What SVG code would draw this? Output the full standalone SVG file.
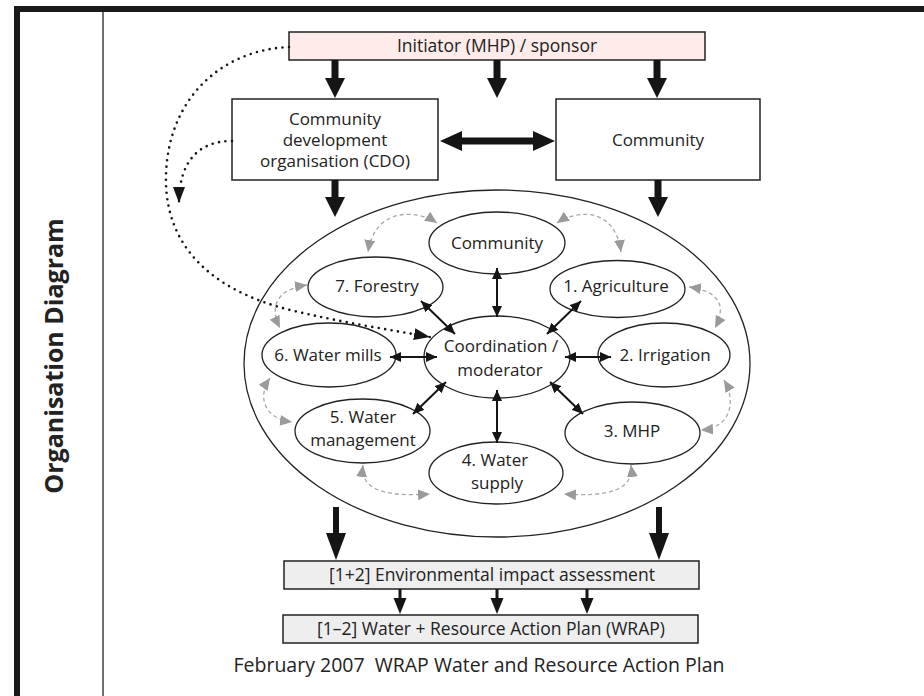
<svg xmlns="http://www.w3.org/2000/svg" width="924" height="696" viewBox="0 0 924 696">
<defs>
<style>
text{font-family:"Open Sans","Liberation Sans",sans-serif;font-size:17px;fill:#222;text-anchor:middle}
.box{stroke:#222;stroke-width:1.5}
.ell{fill:#fff;stroke:#222;stroke-width:1.3}
.thick{fill:#151515}
.sm{stroke:#151515;stroke-width:2;fill:none;marker-start:url(#sa);marker-end:url(#sa)}
.gr{stroke:#a8a8a8;stroke-width:1.3;stroke-dasharray:4 3;fill:none;marker-start:url(#ga);marker-end:url(#ga)}
.dot{stroke:#151515;stroke-width:2.6;stroke-dasharray:0 6.5;stroke-linecap:round;fill:none;marker-end:url(#da)}
</style>
<marker id="sa" markerUnits="userSpaceOnUse" markerWidth="12" markerHeight="10" refX="11" refY="5" orient="auto-start-reverse" viewBox="0 0 12 10"><path d="M0,0 L11,5 L0,10 z" fill="#151515"/></marker>
<marker id="ga" markerUnits="userSpaceOnUse" markerWidth="13" markerHeight="11" refX="12" refY="5.5" orient="auto-start-reverse" viewBox="0 0 13 11"><path d="M0,0 L12,5.5 L0,11 z" fill="#9a9a9a"/></marker>
<marker id="da" markerUnits="userSpaceOnUse" markerWidth="17" markerHeight="13" refX="16" refY="6" orient="auto" viewBox="0 0 17 13"><path d="M0,0 L16,6 L0,12 z" fill="#151515"/></marker>
</defs>
<rect width="924" height="696" fill="#fff"/>
<g id="frame">
<rect x="14" y="6" width="910" height="6" fill="#1a1a1a"/>
<rect x="14" y="6" width="6" height="690" fill="#1a1a1a"/>
<line x1="103" y1="12" x2="103" y2="696" stroke="#222" stroke-width="1.3"/>
<text transform="translate(63,356) rotate(-90)" style="font-weight:bold;font-size:25px">Organisation Diagram</text>
</g>
<g id="initiator"><rect class="box" x="289" y="32" width="416" height="28" fill="#fdecea"/><text x="497" y="52" style="font-size:17.5px">Initiator (MHP) / sponsor</text></g>
<g id="cdo"><rect class="box" x="232" y="99" width="206" height="81" fill="#fff"/><text x="335" y="125">Community</text><text x="335" y="146">development</text><text x="335" y="167">organisation (CDO)</text></g>
<g id="community-box"><rect class="box" x="556" y="99" width="204" height="81" fill="#fff"/><text x="658" y="146">Community</text></g>
<g id="outer"><ellipse class="ell" cx="497" cy="363.5" rx="253" ry="173.5"/></g>
<g id="n-community"><ellipse class="ell" cx="497" cy="243" rx="68" ry="31"/><text x="497" y="249">Community</text></g>
<g id="n-forestry"><ellipse class="ell" cx="375.5" cy="287" rx="67.5" ry="30"/><text x="377" y="292">7. Forestry</text></g>
<g id="n-agriculture"><ellipse class="ell" cx="617.5" cy="289" rx="67.5" ry="28.5"/><text x="616" y="292">1. Agriculture</text></g>
<g id="n-coord"><ellipse class="ell" cx="497" cy="357" rx="73" ry="41"/><text x="501" y="352">Coordination /</text><text x="500" y="376">moderator</text></g>
<g id="n-watermills"><ellipse class="ell" cx="329" cy="355" rx="67" ry="32"/><text x="328" y="361">6. Water mills</text></g>
<g id="n-irrigation"><ellipse class="ell" cx="664" cy="355" rx="66" ry="32"/><text x="665" y="361">2. Irrigation</text></g>
<g id="n-watermgmt"><ellipse class="ell" cx="362.5" cy="431" rx="67.5" ry="32"/><text x="363" y="423">5. Water</text><text x="363" y="446">management</text></g>
<g id="n-mhp"><ellipse class="ell" cx="632.5" cy="433" rx="67.5" ry="31"/><text x="632" y="437">3. MHP</text></g>
<g id="n-watersupply"><ellipse class="ell" cx="496" cy="473" rx="67" ry="31"/><text x="495" y="466">4. Water</text><text x="497" y="489">supply</text></g>
<g id="eia"><rect class="box" x="284" y="561" width="415" height="28" fill="#eeeeee"/><text x="492" y="581" style="font-size:17.5px">[1+2] Environmental impact assessment</text></g>
<g id="wrap"><rect class="box" x="283" y="615" width="415" height="28" fill="#eeeeee"/><text x="491" y="635" style="font-size:17.5px">[1–2] Water + Resource Action Plan (WRAP)</text></g>
<g id="footer"><text x="479" y="672" style="font-size:19.5px;white-space:pre" xml:space="preserve">February 2007  WRAP Water and Resource Action Plan</text></g>
<g id="connectors">
<polygon class="thick" points="331.5,60 338.5,60 338.5,78 345,78 335,98 325,78 331.5,78"/>
<polygon class="thick" points="493.5,60 500.5,60 500.5,78 507,78 497,98 487,78 493.5,78"/>
<polygon class="thick" points="653.5,60 660.5,60 660.5,78 667,78 657,98 647,78 653.5,78"/>
<polygon class="thick" points="440,141 462,131 462,137.5 533,137.5 533,131 555,141 533,151 533,144.5 462,144.5 462,151"/>
<polygon class="thick" points="331.5,180 338.5,180 338.5,197 345,197 335,217 325,197 331.5,197"/>
<polygon class="thick" points="654.5,180 661.5,180 661.5,197 668,197 658,217 648,197 654.5,197"/>
<polygon class="thick" points="333,507 339,507 339,533 346,533 336,560 326,533 333,533"/>
<polygon class="thick" points="656,507 662,507 662,533 669,533 659,560 649,533 656,533"/>
<polygon class="thick" points="398.5,589 401.5,589 401.5,598 406.5,598 400,614 393.5,598 398.5,598"/>
<polygon class="thick" points="495.5,589 498.5,589 498.5,598 503.5,598 497,614 490.5,598 495.5,598"/>
<polygon class="thick" points="585.5,589 588.5,589 588.5,598 593.5,598 587,614 580.5,598 585.5,598"/>
<line class="sm" x1="497" y1="268" x2="497" y2="317"/>
<line class="sm" x1="421" y1="301" x2="455" y2="334"/>
<line class="sm" x1="581" y1="301" x2="547" y2="334"/>
<line class="sm" x1="390" y1="357" x2="437" y2="357"/>
<line class="sm" x1="565" y1="357" x2="611" y2="357"/>
<line class="sm" x1="413" y1="414" x2="446" y2="382"/>
<line class="sm" x1="550" y1="382" x2="583" y2="414"/>
<line class="sm" x1="497" y1="390" x2="497" y2="443"/>
<path class="gr" d="M437,223 C418,210 375,206 368,252"/>
<path class="gr" d="M557,223 C576,210 615,206 621,252"/>
<path class="gr" d="M307,285 C285,288 266,300 280,328"/>
<path class="gr" d="M689,287 C711,290 730,300 715,328"/>
<path class="gr" d="M270,378 C258,395 262,418 292,422"/>
<path class="gr" d="M724,380 C736,400 732,428 701,430"/>
<path class="gr" d="M363,465 C360,490 385,497 430,494"/>
<path class="gr" d="M631,465 C634,490 609,497 564,494"/>
<path class="dot" d="M289,47 C220,50 168,100 166,175 C164,245 210,290 290,310 C340,322 385,329 430,337"/>
<path class="dot" d="M232,141 C200,141 179,160 179,203"/>
</g>
</svg>
